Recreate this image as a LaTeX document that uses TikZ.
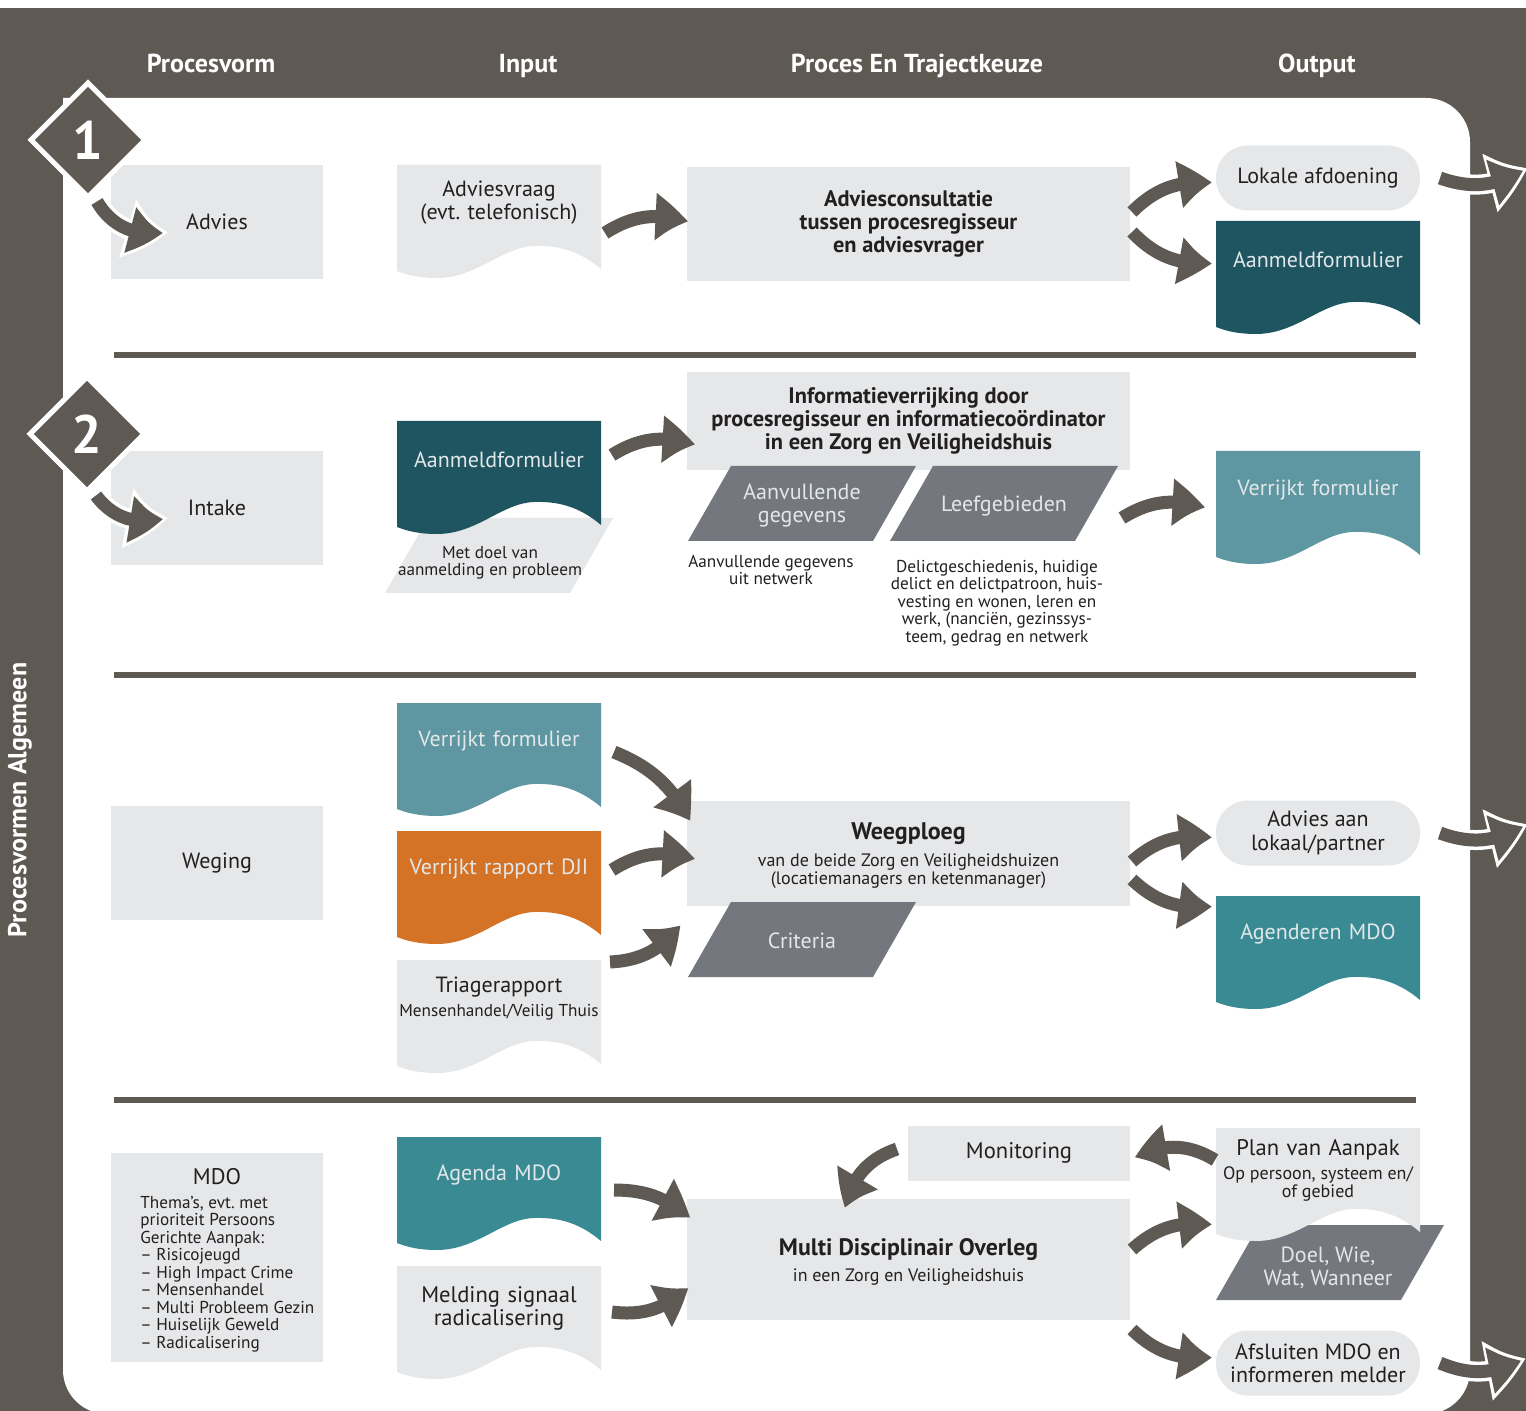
\documentclass[tikz,border=0pt]{standalone}
\usepackage{fontspec}
\setmainfont{PT Sans}
\usetikzlibrary{arrows.meta,bending,shapes.geometric,calc}
\frenchspacing

\definecolor{frame}{HTML}{5E5953}
\definecolor{pale}{HTML}{E6E7E8}
\definecolor{deepteal}{HTML}{1F5560}
\definecolor{softteal}{HTML}{5E96A1}
\definecolor{midteal}{HTML}{3A8A93}
\definecolor{djiorange}{HTML}{D47226}
\definecolor{slate}{HTML}{75777E}
\definecolor{ink}{HTML}{231F20}
\definecolor{lighttxt}{HTML}{E2E8E9}

\newcommand\txtbody{\fontsize{11}{11.5}\selectfont}
\newcommand\txtnote{\fontsize{8.6}{8.75}\selectfont}
\newcommand\txtsub{\fontsize{9}{9}\selectfont}
\newcommand\txthead{\bfseries\fontsize{13}{14}\selectfont}
\newcommand\txtbold{\bfseries\fontsize{11.2}{11.5}\selectfont}

\newcommand\docshape[3]{\fill[#3, shift={(#1,#2)}] (0,0) -- (204,0) -- (204,-104) .. controls (185,-88) and (165,-80) .. (137,-81) .. controls (105,-82) and (80,-113) .. (40,-113) .. controls (22,-113) and (10,-110) .. (0,-106) -- cycle;}
\newcommand\slantbox[3]{\fill[#3] (#1+43,#2) -- (#1+228,#2) -- (#1+185,#2-75) -- (#1,#2-75) -- cycle;}

\tikzset{
	box/.style={fill=pale, text=ink, inner sep=0pt, outer sep=0pt, minimum width=106pt, minimum height=57pt, align=center, font=\txtbody},
	widebox/.style={box, minimum width=221.5pt},
	pill/.style={box, minimum width=102pt, minimum height=32.5pt, rounded corners=16pt},
	doclabel/.style={text width=100pt, inner sep=1pt, outer sep=0pt, align=center, text=ink, font=\txtbody},
	paledoc/.style={doclabel, text=lighttxt},
	slantlabel/.style={minimum width=92pt, inner sep=0pt, outer sep=0pt, align=center, text=lighttxt, font=\txtbody},
	note/.style={align=center, text=ink, inner sep=0pt, font=\txtnote},
	head/.style={text=white, font=\txthead, anchor=base},
	number/.style={diamond, draw=white, line width=2.5pt, fill=frame, minimum size=58pt, inner sep=0pt, text=white, font=\bfseries\fontsize{27}{27}\selectfont},
	flow/.style={draw=frame, line width=6.5pt, -{Triangle[width=22pt,length=17pt,bend]}},
	glow/.style={draw=white, line width=10pt, shorten >=-2.5pt, shorten <=-1pt, -{Triangle[width=28pt,length=21pt,bend]}},
	sepline/.style={draw=frame, line width=3pt},
}

\begin{document}
\begin{tikzpicture}[x=0.5pt,y=0.5pt]
	\useasboundingbox (0,0) rectangle (1526,-1411);
	\clip (0,0) rectangle (1526,-1411);
	\fill[frame] (0,-8) rectangle (1526,-1411);
	\fill[white] (63,-700) -- (63,-98) [rounded corners=22pt] -- (1470,-98) -- (1470,-1414) -- (63,-1414) -- cycle;

	\node[head] (hvorm) at (211,-73) {Procesvorm};
	\node[head] (hinput) at (528,-73) {Input};
	\node[head] (hproces) at (917,-73) {Proces En Trajectkeuze};
	\node[head] (houtput) at (1317,-73) {Output};
	\node[head, anchor=center, rotate=90] (side) at (20,-800) {Procesvormen Algemeen};

	\foreach \y in {355,675,1100}
		\draw[sepline] (114,-\y) -- (1416,-\y);

	\node[box] (advies) at (217,-222) {Advies};
	\docshape{397}{-165}{pale}
	\node[doclabel] (vraag) at (499,-203) {Adviesvraag\\(evt. telefonisch)};
	\node[widebox, font=\txtbold] (consult) at (908.5,-224) {Adviesconsultatie\\tussen procesregisseur\\en adviesvrager};
	\node[pill] (lokaal) at (1318,-178) {Lokale afdoening};
	\docshape{1216}{-221}{deepteal}
	\node[paledoc] (aanmeldA) at (1318,-260) {Aanmeldformulier};

	\node[box] (intake) at (217,-508) {Intake};
	\slantbox{385}{-518}{pale}
	\docshape{397}{-421}{deepteal}
	\node[paledoc] (aanmeldB) at (499,-460) {Aanmeldformulier};
	\node[note] (metdoel) at (490,-563) {Met doel van\\aanmelding en probleem};
	\node[widebox, minimum height=49pt, font=\txtbold] (info) at (908.5,-421) {Informatieverrijking door\\procesregisseur en informatieco\"ordinator\\in een Zorg en Veiligheidshuis};
	\slantbox{688}{-466}{slate}
	\slantbox{890}{-466}{slate}
	\node[slantlabel] (aanvul) at (802,-506) {Aanvullende\\gegevens};
	\node[slantlabel] (leef) at (1004,-506) {Leefgebieden};
	\node[note] (netwerk) at (771,-570) {Aanvullende gegevens\\uit netwerk};
	\node[note] (delict) at (997,-603) {Delictgeschiedenis, huidige\\delict en delictpatroon, huis-\\vesting en wonen, leren en\\werk, (nanci\"en, gezinssys-\\teem, gedrag en netwerk};
	\docshape{1216}{-451}{softteal}
	\node[paledoc] (verrijktA) at (1318,-490) {Verrijkt formulier};

	\node[box] (weging) at (217,-863) {Weging};
	\docshape{397}{-703}{softteal}
	\node[paledoc] (verrijktB) at (499,-741) {Verrijkt formulier};
	\docshape{397}{-831}{djiorange}
	\node[paledoc] (dji) at (499,-869) {Verrijkt rapport DJI};
	\docshape{397}{-960}{pale}
	\node[doclabel] (triage) at (499,-987) {Triagerapport};
	\node[note] (triagesub) at (499,-1012) {Mensenhandel/Veilig Thuis};
	\node[widebox, minimum height=52.5pt] (weeg) at (908.5,-853.5) {};
	\node[inner sep=0pt, text=ink, font=\bfseries\fontsize{12}{13}\selectfont] (weegtitle) at (908.5,-834) {Weegploeg};
	\node[note, font=\txtsub] (weegsub) at (908.5,-871) {van de beide Zorg en Veiligheidshuizen\\(locatiemanagers en ketenmanager)};
	\slantbox{688}{-902}{slate}
	\node[slantlabel] (criteria) at (802,-941) {Criteria};
	\node[pill, font=\fontsize{11}{12}\selectfont] (adviesaan) at (1318,-833) {Advies aan\\lokaal/partner};
	\docshape{1216}{-896}{midteal}
	\node[paledoc] (agenderen) at (1318,-934) {Agenderen MDO};

	\node[box, minimum height=104.5pt] (mdo) at (217,-1257.5) {};
	\node[inner sep=0pt, text=ink, font=\fontsize{11.3}{13}\selectfont] (mdotitle) at (217,-1177) {MDO};
	\node[note, align=left, anchor=west] (mdolist) at (140,-1274) {Thema’s, evt. met\\prioriteit Persoons\\Gerichte Aanpak:\\– Risicojeugd\\– High Impact Crime\\– Mensenhandel\\– Multi Probleem Gezin\\– Huiselijk Geweld\\– Radicalisering};
	\docshape{397}{-1137}{midteal}
	\node[paledoc] (agenda) at (499,-1175) {Agenda MDO};
	\docshape{397}{-1266}{pale}
	\node[doclabel, font=\fontsize{11.3}{11.5}\selectfont] (melding) at (499,-1308) {Melding signaal\\radicalisering};
	\node[box, minimum width=111pt, minimum height=27.5pt, font=\fontsize{11.3}{12}\selectfont] (monitor) at (1019,-1153) {Monitoring};
	\node[widebox, minimum height=60.5pt] (overleg) at (908.5,-1259.5) {};
	\node[inner sep=0pt, text=ink, font=\bfseries\fontsize{11.9}{13}\selectfont] (overlegtitle) at (908.5,-1250) {Multi Disciplinair Overleg};
	\node[note, font=\txtsub] (overlegsub) at (908.5,-1277) {in een Zorg en Veiligheidshuis};
	\slantbox{1216}{-1225}{slate}
	\docshape{1216}{-1128}{pale}
	\node[doclabel, font=\fontsize{11.3}{13}\selectfont] (plan) at (1318,-1150) {Plan van Aanpak};
	\node[note, font=\txtsub] (plansub) at (1318,-1184) {Op persoon, systeem en/\\of gebied};
	\node[slantlabel] (doel) at (1328,-1268) {Doel, Wie,\\Wat, Wanneer};
	\node[pill] (afsluiten) at (1318,-1363) {Afsluiten MDO en\\informeren melder};

	\node[number] (one) at (88,-140) {1};
	\node[number] (two) at (87,-434) {2};
	\draw[glow] ($(one.south)+(9,-1)$) to[bend right=35] ($(advies.west)+(52,-10)$);
	\draw[flow] ($(one.south)+(9,-1)$) to[bend right=35] ($(advies.west)+(52,-10)$);
	\draw[glow] ($(two.south)+(9,-1)$) to[bend right=35] ($(intake.west)+(52,-10)$);
	\draw[flow] ($(two.south)+(9,-1)$) to[bend right=35] ($(intake.west)+(52,-10)$);

	\draw[flow] ($(vraag.east)+(4,-30)$) to[bend left=25] ($(consult.west)+(1,2)$);
	\draw[flow] ($(consult.east)+(2,12)$) to[bend left=25] ($(lokaal.west)+(-4,-5)$);
	\draw[flow] ($(consult.east)+(2,-8)$) to[bend right=25] ($(aanmeldA.west)+(-4,-3)$);

	\draw[flow] ($(aanmeldB.east)+(11,5)$) to[bend left=25] ($(info.west)+(8,-24)$);
	\draw[flow] ($(leef.east)+(26,-12)$) to[bend left=25] ($(verrijktA.west)+(-11,-18)$);

	\draw[flow] ($(verrijktB.east)+(13,-11)$) to[bend left=20] ($(weeg.north west)+(3,-20)$);
	\draw[flow] ($(dji.east)+(11,-1)$) to[bend left=25] ($(weeg.west)+(8,-6)$);
	\draw[flow] ($(triage.east)+(9,25)$) to[bend right=25] ($(weeg.south west)+(-7,-19)$);
	\draw[flow] ($(weeg.east)+(2,-8)$) to[bend left=25] ($(adviesaan.west)+(-4,-5)$);
	\draw[flow] ($(weeg.east)+(2,-26)$) to[bend right=25] ($(agenderen.west)+(-4,28)$);

	\draw[flow] ($(agenda.east)+(13,-15)$) to[bend left=20] ($(overleg.north west)+(3,-19)$);
	\draw[flow] ($(melding.east)+(11,-4)$) to[bend right=25] ($(overleg.west)+(1,-28)$);
	\draw[flow] ($(monitor.west)+(-11,4)$) to[bend right=30] ($(overleg.north)+(-63,-9)$);
	\draw[flow] ($(plan.west)+(-1,-10)$) to[bend right=30] ($(monitor.east)+(5,-5)$);
	\draw[flow] ($(overleg.east)+(2,10)$) to[bend left=25] ($(plan.west)+(-4,-75)$);
	\draw[flow] ($(overleg.east)+(2,-70)$) to[bend right=25] ($(afsluiten.west)+(-4,6)$);

	\coordinate (exitA) at (1523,-170);
	\coordinate (exitB) at (1523,-826);
	\coordinate (exitC) at (1521,-1360);
	\foreach \src/\dst in {lokaal/exitA, adviesaan/exitB, afsluiten/exitC} {
		\draw[glow] ($(\src.east)+(20,0)$) to[bend right=25] (\dst);
		\draw[flow] ($(\src.east)+(20,0)$) to[bend right=25] (\dst);
	}
\end{tikzpicture}
\end{document}
